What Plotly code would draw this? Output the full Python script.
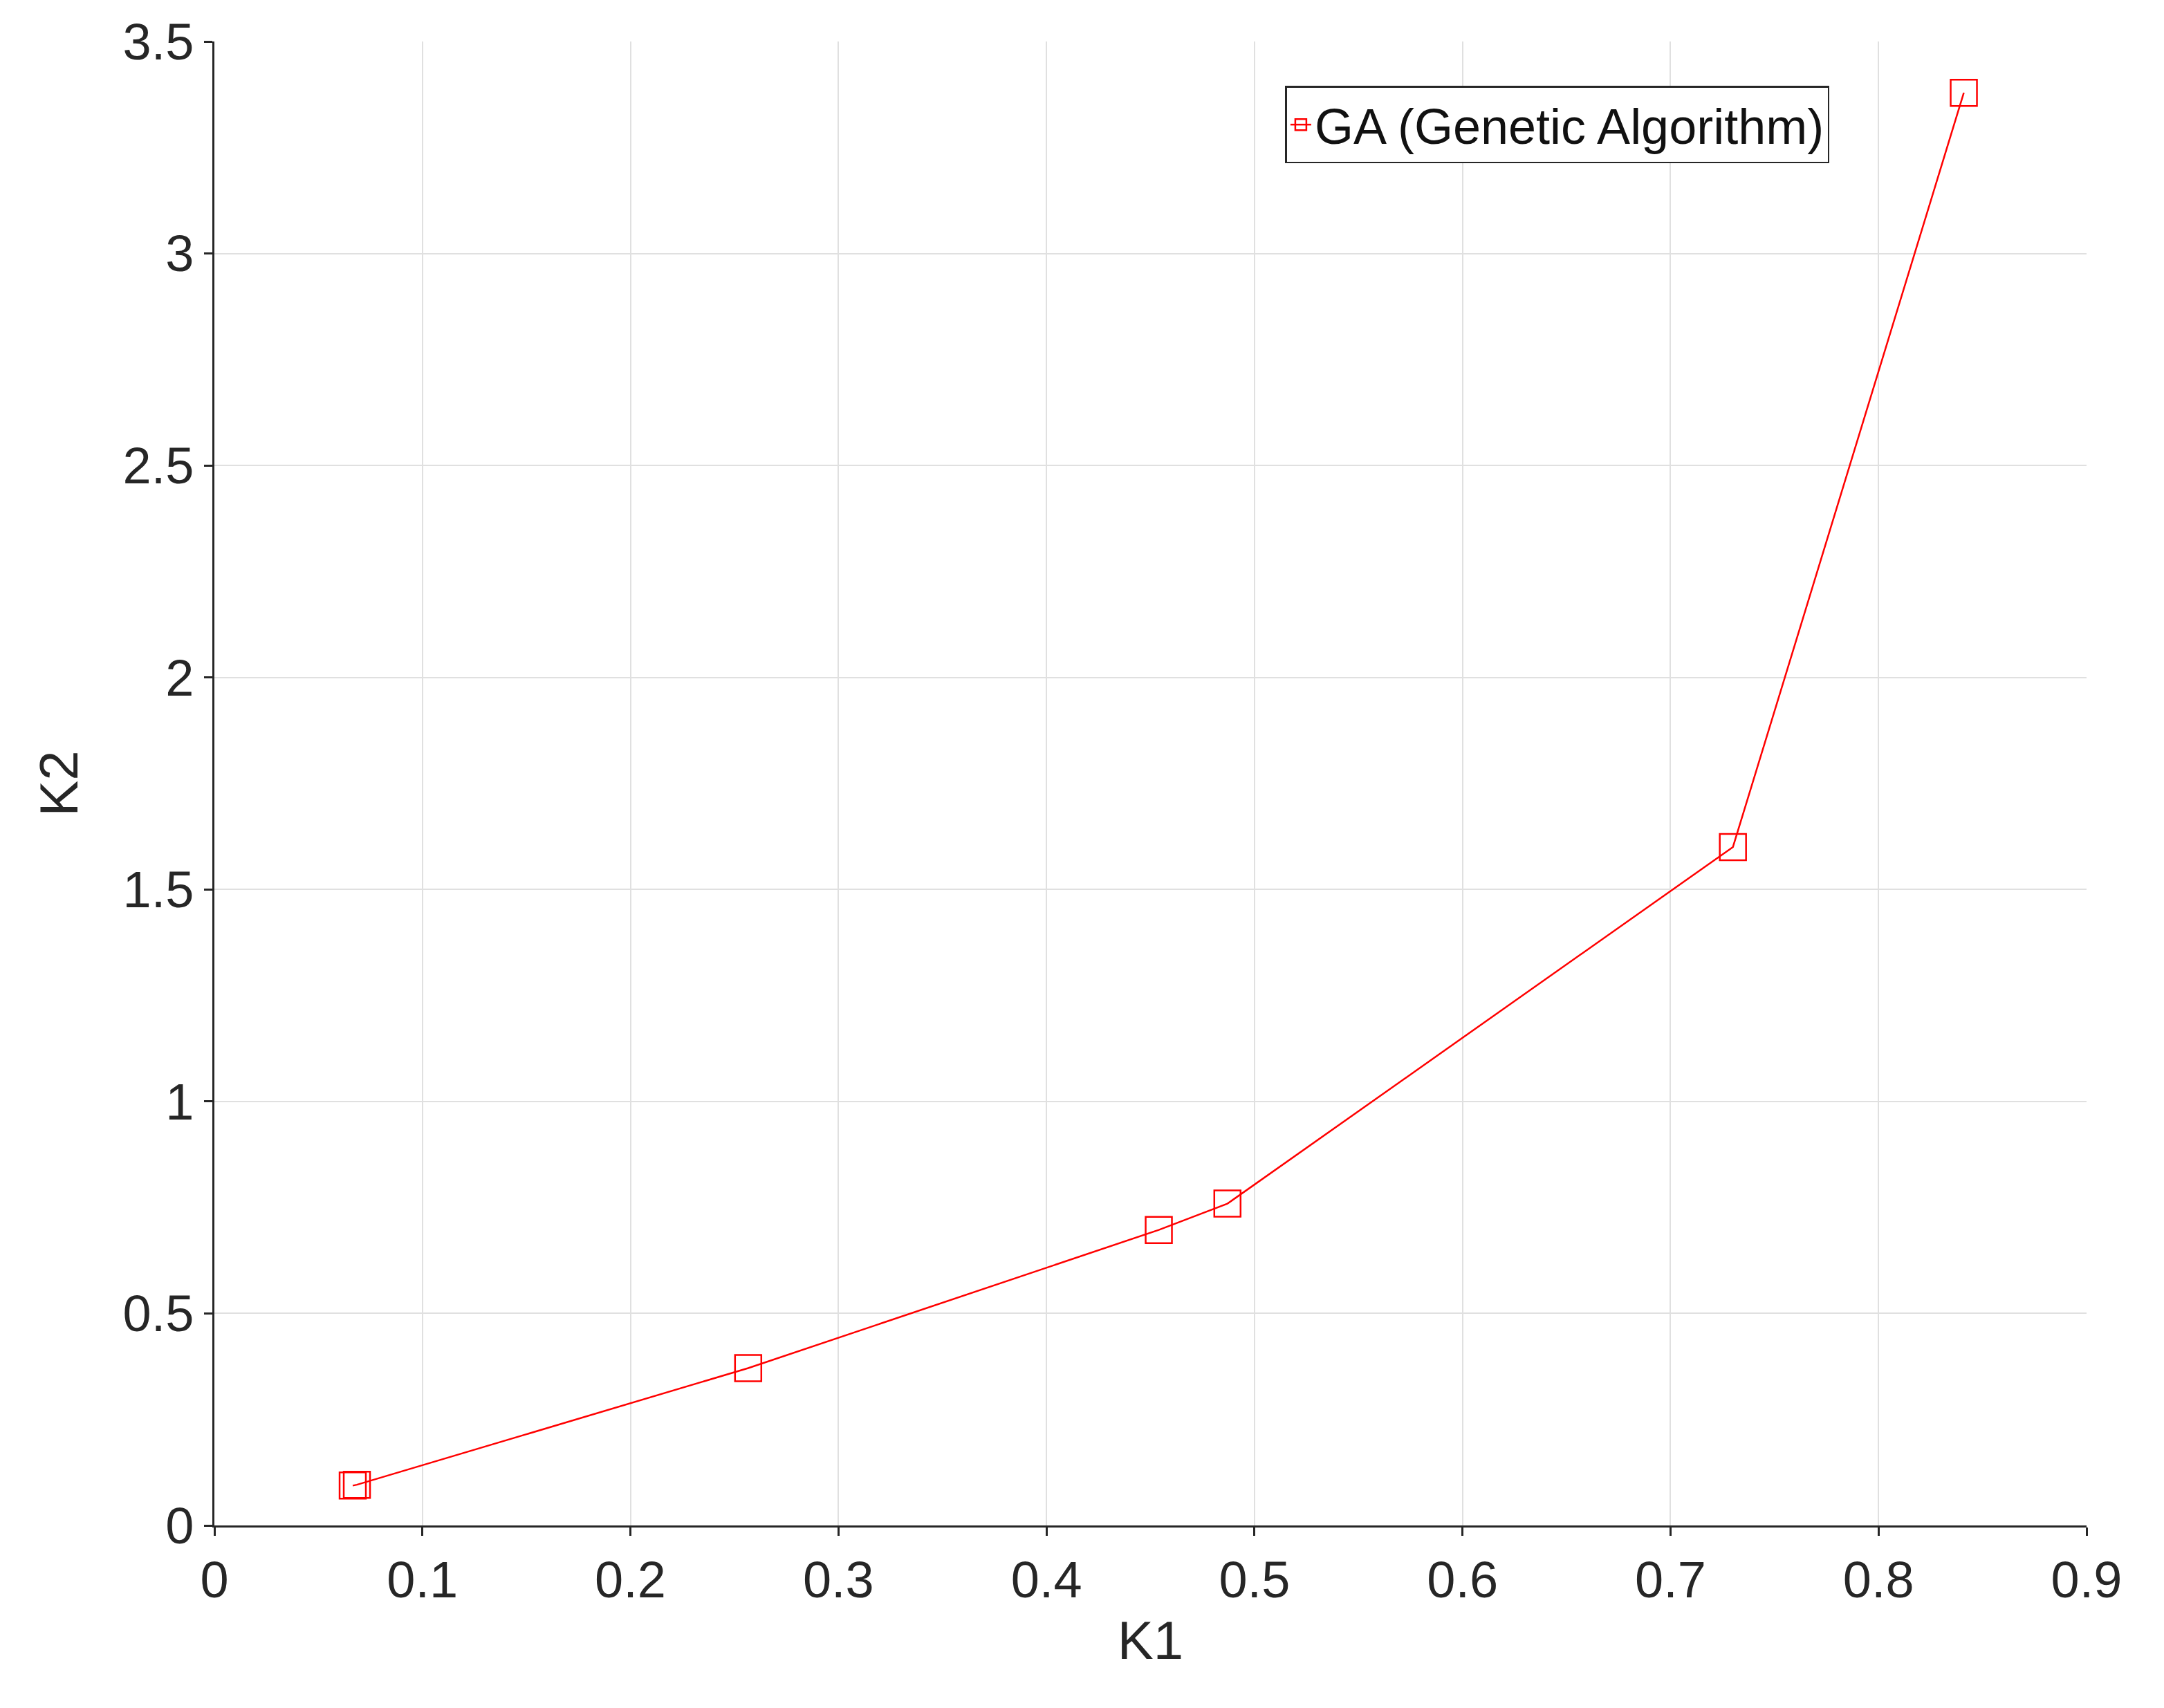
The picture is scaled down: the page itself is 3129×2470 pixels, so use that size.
import plotly.graph_objects as go

k1 = [0.0665, 0.0685, 0.2566, 0.454, 0.487, 0.730, 0.841]
k2 = [0.094, 0.096, 0.371, 0.697, 0.759, 1.600, 3.379]

fig = go.Figure()
fig.add_trace(go.Scatter(x=k1, y=k2, mode="lines+markers", name="GA (Genetic Algorithm)",
    line=dict(color="red", width=2.5),
    marker=dict(symbol="square-open", size=38, color="red", line=dict(width=2.5, color="red"))))

ax = dict(showgrid=True, gridcolor="#e0e0e0", gridwidth=2, showline=True, linecolor="#262626",
          linewidth=2.5, ticks="outside", ticklen=12, tickwidth=2.5, tickcolor="#262626",
          tickfont=dict(size=74, color="#262626", family="Liberation Sans"), zeroline=False,
          title_font=dict(size=78, color="#262626", family="Liberation Sans"))
fig.update_xaxes(**ax, range=[0, 0.9], dtick=0.1, title_text="K1", title_standoff=20)
fig.update_yaxes(**ax, range=[0, 3.5], dtick=0.5, title_text="K2", title_standoff=40)
fig.update_layout(width=3129, height=2470, plot_bgcolor="white", paper_bgcolor="white",
    margin=dict(l=302, r=120, t=52, b=272),
    showlegend=True,
    legend=dict(x=0.572, y=0.97, xanchor="left", yanchor="top", bgcolor="white",
                bordercolor="#262626", borderwidth=2.5,
                font=dict(size=72, color="#111", family="Liberation Sans")))
fig.write_html("out.html")
